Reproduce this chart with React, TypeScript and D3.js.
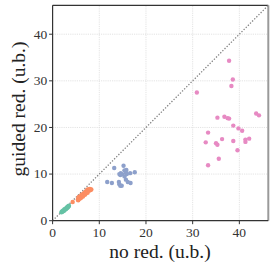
import React from 'react'
import * as d3 from 'd3'

const W = 275
const H = 270

const ticks = [0, 10, 20, 30, 40]
const domainMax = 46.2

const greenPts: [number, number][] = [
  [1.9, 1.8], [2.0, 2.0], [2.1, 1.9], [2.2, 2.1], [2.3, 2.2], [2.4, 2.1], [2.5, 2.4], [2.6, 2.3],
  [2.7, 2.5], [2.8, 2.6], [2.9, 2.5], [3.0, 2.8], [3.1, 2.7], [3.2, 3.0], [3.3, 2.9], [3.4, 3.1], [3.5, 3.2],
]

const orangePts: [number, number][] = [
  [4.3, 4.0],
  [5.4, 4.5], [5.5, 4.8], [5.7, 4.7], [5.8, 5.0], [5.9, 4.9], [6.0, 5.2], [6.1, 5.0], [6.2, 5.3],
  [6.3, 5.2], [6.4, 5.5], [6.5, 5.4], [6.6, 5.7], [6.7, 5.5], [6.8, 5.8], [6.9, 5.7], [7.0, 6.0],
  [7.1, 5.9], [7.2, 6.2], [7.3, 6.1], [7.4, 6.4], [7.5, 6.3], [7.6, 6.6], [7.7, 6.5], [7.8, 6.7],
  [6.2, 5.6], [6.7, 5.9], [7.1, 6.3], [5.6, 5.1], [7.5, 6.7], [7.9, 6.5], [8.1, 6.6], [8.3, 6.7],
  [8.0, 6.8], [5.5, 4.4], [6.0, 4.8], [6.5, 5.2], [7.0, 5.6], [7.5, 6.0],
]

const bluePts: [number, number][] = [
  [13.2, 11.3], [15.2, 11.8], [15.8, 10.9], [14.3, 10.0], [14.6, 10.2], [14.9, 10.0], [14.5, 9.8],
  [15.7, 10.3], [15.9, 10.0], [16.6, 10.2], [17.6, 10.4], [11.7, 8.3], [12.7, 8.1], [14.2, 8.3],
  [14.3, 7.8], [14.5, 7.5], [14.8, 7.5], [15.7, 8.8], [16.1, 8.3], [16.7, 8.1], [15.4, 10.8], [15.4, 9.5],
]

const pinkPts: [number, number][] = [
  [37.8, 34.3], [38.6, 30.3], [38.3, 28.9], [30.9, 27.5], [35.3, 22.1], [36.8, 22.3], [37.5, 22.0],
  [37.8, 21.9], [43.6, 23.0], [44.2, 22.6], [38.7, 20.4], [39.8, 19.8], [40.6, 19.3], [33.3, 18.9],
  [36.3, 17.5], [38.7, 17.1], [41.3, 17.4], [42.1, 17.6], [41.3, 16.9], [32.8, 16.8], [35.0, 16.6],
  [35.3, 16.3], [39.6, 15.1], [35.6, 13.3], [33.3, 11.9],
]

const groups = [
  { pts: greenPts, color: '#66c2a5' },
  { pts: orangePts, color: '#fc8d62' },
  { pts: bluePts, color: '#8da0cb' },
  { pts: pinkPts, color: '#e78ac3' },
]

const font = "'Liberation Serif', 'Times New Roman', serif"

export default function App() {
  const x = d3.scaleLinear().domain([0, domainMax]).range([52.6, 268.3])
  const y = d3.scaleLinear().domain([0, domainMax]).range([220.7, 5.3])
  const [x0, x1] = x.range()
  const [y0, y1] = y.range()

  return (
    <svg width={W} height={H} style={{ position: 'absolute', left: 0, top: 0, background: '#fff' }}>
      {/* grid */}
      {ticks.slice(1).map((t) => (
        <g key={'g' + t}>
          <line x1={x(t)} x2={x(t)} y1={y0} y2={y1} stroke="#dcdcdc" strokeWidth={0.8} strokeDasharray="1.2,1" />
          <line x1={x0} x2={x1} y1={y(t)} y2={y(t)} stroke="#dcdcdc" strokeWidth={0.8} strokeDasharray="1.2,1" />
        </g>
      ))}
      {/* identity line */}
      <line x1={x(0)} y1={y(0)} x2={x(domainMax)} y2={y(domainMax)} stroke="#808080" strokeWidth={1.3} strokeDasharray="1.3,1.7" />
      {groups.map((g, gi) =>
        g.pts.map(([a, b], i) => (
          <circle key={gi + '-' + i} cx={x(a)} cy={y(b)} r={2.2} fill={g.color} />
        ))
      )}
      {/* spines */}
      <line x1={x0} x2={x1} y1={y1} y2={y1} stroke="#333" strokeWidth={1.2} />
      <line x1={x1} x2={x1} y1={y1} y2={y0} stroke="#9a9a9a" strokeWidth={2} />
      <line x1={x0} x2={x0} y1={y0} y2={y1} stroke="#333" strokeWidth={1.2} />
      <line x1={x0} x2={x1} y1={y0} y2={y0} stroke="#333" strokeWidth={1.2} />
      {/* ticks */}
      {ticks.map((t) => (
        <g key={'t' + t}>
          <line x1={x(t)} x2={x(t)} y1={y0} y2={y0 + 3.5} stroke="#333" strokeWidth={1} />
          <text x={x(t)} y={237.3} textAnchor="middle" fontFamily={font} fontSize={13.5} fill="#333">{t}</text>
          <line x1={x0 - 3.5} x2={x0} y1={y(t)} y2={y(t)} stroke="#333" strokeWidth={1} />
          <text x={47.3} y={y(t) + 4.4} textAnchor="end" fontFamily={font} fontSize={13.5} fill="#333">{t}</text>
        </g>
      ))}
      <text x={160} y={258} textAnchor="middle" fontFamily={font} fontSize={19.5} fill="#222">no red. (u.b.)</text>
      <text transform={`translate(25,109) rotate(-90)`} textAnchor="middle" fontFamily={font} fontSize={19.5} fill="#222">guided red. (u.b.)</text>
    </svg>
  )
}
